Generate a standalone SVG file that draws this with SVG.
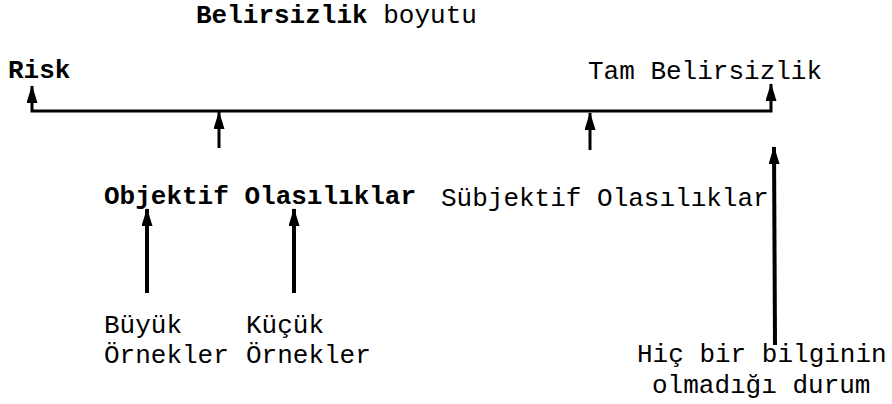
<svg xmlns="http://www.w3.org/2000/svg" width="892" height="404" viewBox="0 0 892 404">
<style>
text{font-family:"Liberation Mono","Courier New",monospace;font-size:26px;fill:#000}
.b{font-weight:bold}
.ln{stroke:#000;stroke-width:3;fill:none}
</style>
<defs>
<marker id="ah" viewBox="0 0 18 11" refX="17" refY="5.5" markerWidth="18" markerHeight="11" markerUnits="userSpaceOnUse" orient="auto-start-reverse">
<path d="M0,0 L18,5.5 L0,11 Z" fill="#000"/>
</marker>
</defs>
<rect width="892" height="404" fill="#fff"/>
<g id="title"><text x="196" y="23"><tspan class="b">Belirsizlik</tspan> boyutu</text></g>
<g id="risk"><text x="8" y="78" class="b">Risk</text></g>
<g id="tam"><text x="588" y="79">Tam Belirsizlik</text></g>
<g id="objektif"><text x="104" y="204" class="b">Objektif Olasılıklar</text></g>
<g id="subjektif"><text x="441" y="206">Sübjektif Olasılıklar</text></g>
<g id="buyuk"><text x="104" y="333">Büyük</text><text x="104" y="363">Örnekler</text></g>
<g id="kucuk"><text x="246" y="333">Küçük</text><text x="246" y="363">Örnekler</text></g>
<g id="hic"><text x="637" y="362">Hiç bir bilginin</text><text x="652" y="393">olmadığı durum</text></g>
<g id="connectors">
<path class="ln" d="M32,86 L32,111 L771,111 L771,84" marker-start="url(#ah)" marker-end="url(#ah)"/>
<path class="ln" d="M219,148 L219,112" marker-end="url(#ah)"/>
<path class="ln" d="M590,150 L590,113" marker-end="url(#ah)"/>
<path class="ln" style="stroke-width:4" d="M775,345 L774,147" marker-end="url(#ah)"/>
<path class="ln" style="stroke-width:4" d="M147,293 L147,209" marker-end="url(#ah)"/>
<path class="ln" style="stroke-width:4" d="M294,293 L294,209" marker-end="url(#ah)"/>
</g>
</svg>
